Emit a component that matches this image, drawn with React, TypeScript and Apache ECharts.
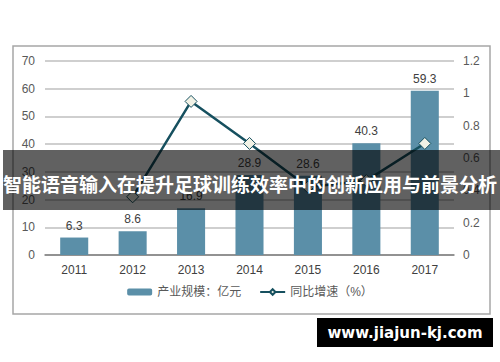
import React, { useEffect, useRef } from "react";
import * as echarts from "echarts";

const years = ["2011", "2012", "2013", "2014", "2015", "2016", "2017"];
const scaleValues = [6.3, 8.6, 16.9, 28.9, 28.6, 40.3, 59.3];
const growthValues: (number | null)[] = [null, 0.36, 0.95, 0.69, 0.42, 0.46, 0.69];
const barName = "产业规模：亿元";
const lineName = "同比增速（%）";
const bannerText = "智能语音输入在提升足球训练效率中的创新应用与前景分析";
const watermarkText = "www.jiajun-kj.com";

export default function App() {
  const ref = useRef<HTMLDivElement>(null);
  useEffect(() => {
    if (!ref.current) return;
    const chart = echarts.init(ref.current, null, { renderer: "svg" });
    const font = "Arial, 'Liberation Sans', 'Noto Sans CJK SC', sans-serif";
    chart.setOption({
      animation: false,
      backgroundColor: "#ffffff",
      textStyle: { fontFamily: font },
      grid: { left: 45, right: 46, top: 61, bottom: 107, containLabel: false },
      legend: {
        bottom: 59,
        left: "center",
        itemGap: 18,
        itemWidth: 25,
        itemHeight: 7,
        textStyle: { color: "#595959", fontSize: 12, fontFamily: font },
        data: [{ name: barName }, { name: lineName }],
      },
      xAxis: {
        type: "category",
        data: years,
        axisTick: { show: false },
        axisLine: { lineStyle: { color: "#7f7f7f", width: 1.5 } },
        axisLabel: { color: "#404040", fontSize: 12, margin: 9 },
      },
      yAxis: [
        {
          type: "value",
          min: 0,
          max: 70,
          interval: 10,
          axisLine: { show: false },
          axisTick: { show: false },
          axisLabel: { color: "#595959", fontSize: 12, margin: 10 },
          splitLine: { lineStyle: { color: "#bfbfbf", width: 1.5 } },
        },
        {
          type: "value",
          min: 0,
          max: 1.2,
          interval: 0.2,
          axisLine: { show: false },
          axisTick: { show: false },
          axisLabel: { color: "#595959", fontSize: 12, margin: 9 },
          splitLine: { show: false },
        },
      ],
      series: [
        {
          name: barName,
          type: "bar",
          data: scaleValues,
          barWidth: "48%",
          itemStyle: { color: "#5b8fa8" },
          label: { show: true, position: "top", color: "#404040", fontSize: 12, distance: 6 },
          z: 2,
        },
        {
          name: lineName,
          type: "line",
          yAxisIndex: 1,
          data: growthValues,
          connectNulls: false,
          symbol: "diamond",
          symbolSize: 12,
          lineStyle: { color: "#16505f", width: 2.5 },
          itemStyle: { color: "#f2f2e6", borderColor: "#16505f", borderWidth: 1 },
          z: 3,
        },
      ],
      graphic: [
        {
          type: "rect",
          shape: { x: 13, y: 46, width: 477, height: 268 },
          style: { fill: "none", stroke: "#a6a6a6", lineWidth: 1.5 },
          silent: true,
          z: 1,
        },
        {
          type: "rect",
          shape: { x: 3, y: 150, width: 497, height: 60 },
          style: { fill: "rgba(0,0,0,0.62)" },
          silent: true,
          z: 100,
        },
        {
          type: "text",
          x: 250,
          y: 183,
          style: {
            text: bannerText,
            fill: "#ffffff",
            fontSize: 19,
            fontWeight: "bold",
            fontFamily: "'Noto Sans CJK SC', sans-serif",
            align: "center",
            verticalAlign: "middle",
          },
          silent: true,
          z: 101,
        },
        {
          type: "rect",
          shape: { x: 317, y: 318, width: 176, height: 29 },
          style: { fill: "#000000" },
          silent: true,
          z: 100,
        },
        {
          type: "text",
          x: 405,
          y: 332.5,
          style: {
            text: watermarkText,
            fill: "#ffffff",
            fontSize: 15,
            fontWeight: "bold",
            fontFamily: "'DejaVu Sans', Verdana, sans-serif",
            align: "center",
            verticalAlign: "middle",
          },
          silent: true,
          z: 101,
        },
      ],
    });
    return () => chart.dispose();
  }, []);
  return (
    <div
      ref={ref}
      style={{ position: "fixed", left: 0, top: 0, width: 500, height: 362 }}
    />
  );
}
